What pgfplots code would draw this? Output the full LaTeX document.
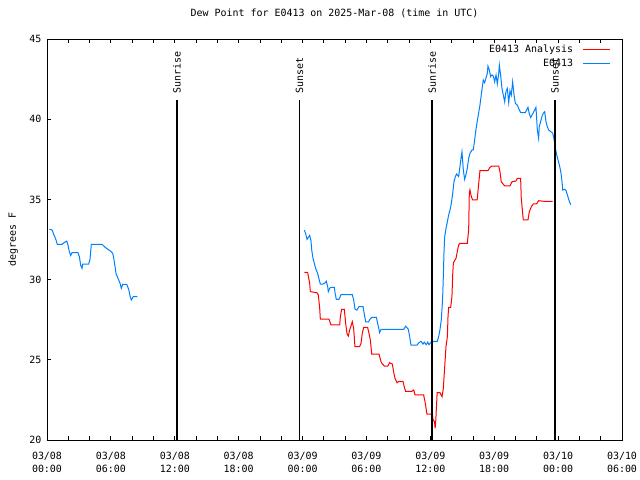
\documentclass[border=0pt]{standalone}
\usepackage{pgfplots}
\pgfplotsset{compat=1.18}
\usepackage{fontspec}
\setmainfont{DejaVu Sans Mono}
\setmonofont{DejaVu Sans Mono}
\definecolor{anared}{RGB}{255,0,0}
\definecolor{obsblue}{RGB}{0,128,255}
\begin{document}
\begin{tikzpicture}
\path[use as bounding box] (0,0) rectangle (640bp,480bp);
\begin{axis}[
  at={(47bp,40bp)}, anchor=south west,
  scale only axis, width=575bp, height=401bp,
  xmin=0, xmax=54, ymin=20, ymax=45,
  font=\fontsize{10}{12}\selectfont,
  /pgf/number format/assume math mode=true,
  xtick={0,6,...,54},
  xticklabels={{03/08\\00:00},{03/08\\06:00},{03/08\\12:00},{03/08\\18:00},{03/09\\00:00},{03/09\\06:00},{03/09\\12:00},{03/09\\18:00},{03/10\\00:00},{03/10\\06:00}},
  xticklabel style={align=center, font=\fontsize{10}{13}\selectfont, yshift=-9bp},
  minor xtick={2,4,8,10,14,16,20,22,26,28,32,34,38,40,44,46,50,52},
  ytick={20,25,...,45},
  yticklabel style={xshift=-2bp},
  tick align=inside,
  major tick length=4bp, minor tick length=4bp,
  xtick pos=both, ytick pos=left,
  axis line style={line width=0.8bp},
  every tick/.style={black, line width=0.8bp},
  title={Dew Point for E0413 on 2025-Mar-08 (time in UTC)},
  title style={at={(0.5,1)}, anchor=center, yshift=20bp},
  ylabel={degrees F},
  ylabel style={at={(axis description cs:-0.059,0.5)}, anchor=center},
  unbounded coords=jump,
  legend style={draw=none, fill=none, at={(0.985,0.995)}, anchor=north east, cells={anchor=east}, row sep=1bp, font=\fontsize{10}{12}\selectfont},
  legend plot pos=right,
  legend image code/.code={\path (0cm,0cm) -- (0cm,0cm); \draw[#1] (0.25cm,0cm) -- (1.2cm,0cm);},
  clip=false,
]
\addplot[anared, line width=1bp] coordinates {
(24.17,30.45) (24.48,30.45) (24.55,30.18) (24.67,29.77) (24.73,29.25) (25.36,29.18) (25.48,29.04) (25.61,28.21) (25.67,27.54)
(26.48,27.54) (26.67,27.17) (27.49,27.17) (27.55,27.69) (27.67,28.15) (27.92,28.15) (28.05,27.27) (28.17,26.65) (28.30,26.48)
(28.42,26.86) (28.55,27.11) (28.67,27.38) (28.80,26.96) (28.92,25.82) (29.36,25.82) (29.49,26.03) (29.61,26.65) (29.74,27.02)
(30.11,27.02) (30.24,26.65) (30.37,26.23) (30.49,25.36) (31.18,25.36) (31.37,24.88) (31.49,24.74) (31.68,24.61) (32.00,24.61)
(32.18,24.82) (32.43,24.74) (32.55,24.26) (32.68,23.85) (32.87,23.57) (33.05,23.66) (33.43,23.66) (33.55,23.32) (33.68,23.03)
(34.25,23.03) (34.44,23.12) (34.56,22.81) (35.37,22.81) (35.50,22.39) (35.68,21.62) (36.20,21.60) (36.26,21.25) (36.39,21.14)
(36.45,20.73) (36.51,21.20) (36.64,22.95) (36.90,22.95) (37.10,22.70) (37.22,23.22) (37.35,24.57) (37.47,25.82) (37.60,26.44)
(37.66,27.69) (37.72,28.27) (37.91,28.27) (38.03,28.94) (38.10,30.29) (38.16,31.02) (38.28,31.19) (38.41,31.33) (38.53,31.74)
(38.66,32.16) (38.78,32.26) (39.47,32.26) (39.60,33.09) (39.66,35.38) (39.72,35.59) (39.85,35.17) (39.97,34.97) (40.40,34.97)
(40.53,35.90) (40.66,36.79) (41.41,36.79) (41.60,37.00) (41.79,37.08) (42.42,37.08) (42.54,36.73) (42.66,36.10) (42.98,35.84)
(43.48,35.84) (43.67,36.10) (44.04,36.15) (44.17,36.31) (44.48,36.31) (44.54,35.07) (44.73,33.72) (45.17,33.72) (45.30,34.24)
(45.49,34.55) (45.67,34.72) (45.98,34.72) (46.17,34.92) (46.67,34.88) (47.49,34.88)
};
\addlegendentry{E0413 Analysis}
\addplot[obsblue, line width=1bp] coordinates {
(0.22,33.14) (0.47,33.10) (0.66,32.78) (0.85,32.47) (0.97,32.20) (1.41,32.20) (1.60,32.30) (1.85,32.40) (1.97,32.16) (2.10,31.74)
(2.22,31.50) (2.35,31.68) (2.90,31.68) (3.04,31.43) (3.16,30.90) (3.29,30.70) (3.35,30.97) (3.91,30.97) (4.04,31.26) (4.16,32.20)
(5.17,32.20) (5.48,32.00) (5.92,31.80) (6.17,31.64) (6.29,31.26) (6.48,30.39) (6.67,30.08) (6.86,29.77) (6.98,29.46) (7.11,29.70)
(7.49,29.70) (7.67,29.40) (7.80,28.98) (7.92,28.73) (8.10,28.94) (8.48,28.94)
(16,nan)
(24.17,33.09) (24.30,32.84) (24.42,32.51) (24.55,32.64) (24.67,32.76) (24.79,32.43) (24.86,31.85) (24.98,31.33) (25.10,31.02)
(25.23,30.70) (25.42,30.39) (25.55,30.02) (25.67,29.72) (25.92,29.72) (26.11,29.80) (26.23,29.90) (26.36,29.56) (26.42,29.25)
(26.55,29.46) (26.67,29.52) (26.98,29.52) (27.05,29.18) (27.17,28.77) (27.42,28.77) (27.61,29.06) (28.67,29.06) (28.80,28.73)
(28.93,28.15) (29.11,28.10) (29.30,28.31) (29.68,28.31) (29.80,27.85) (29.93,27.36) (30.18,27.36) (30.37,27.56) (30.50,27.65)
(30.93,27.65) (31.12,27.07) (31.24,26.69) (31.37,26.90) (33.50,26.90) (33.69,27.10) (33.93,26.90) (34.06,26.44) (34.18,25.92)
(34.75,25.92) (34.93,26.07) (35.12,26.15) (35.31,25.98) (35.43,26.10) (35.62,25.94) (35.75,26.10) (35.87,25.94) (36.06,26.10)
(36.37,26.15) (36.65,26.14) (36.78,26.44) (36.90,26.86) (37.03,27.48) (37.10,28.21) (37.16,28.94) (37.22,30.18) (37.28,31.64)
(37.35,32.68) (37.47,33.19) (37.60,33.61) (37.72,34.03) (37.85,34.34) (37.97,34.75) (38.10,35.38) (38.22,36.10) (38.35,36.42)
(38.47,36.58) (38.66,36.42) (38.78,37.04) (38.90,37.67) (38.97,37.97) (39.10,36.83) (39.22,36.25) (39.34,36.52) (39.47,36.94)
(39.60,37.56) (39.72,37.87) (39.91,38.08) (40.03,38.08) (40.16,38.70) (40.28,39.33) (40.40,39.85) (40.53,40.36) (40.66,40.88)
(40.78,41.51) (40.91,42.13) (40.97,42.44) (41.10,42.27) (41.22,42.55) (41.35,42.85) (41.41,43.31) (41.54,43.07) (41.66,42.65)
(41.79,42.76) (41.92,42.69) (42.04,42.33) (42.17,42.76) (42.29,42.20) (42.42,42.85) (42.48,43.38) (42.60,42.76) (42.73,41.92)
(42.85,41.51) (42.98,41.09) (43.10,41.71) (43.23,41.92) (43.36,41.03) (43.48,41.77) (43.60,41.50) (43.73,42.33) (43.86,41.51)
(43.98,40.99) (44.17,40.88) (44.36,40.57) (44.48,40.41) (44.92,40.41) (45.04,40.57) (45.17,40.74) (45.30,40.32) (45.42,40.11)
(45.55,40.26) (45.67,40.41) (45.80,40.57) (45.92,40.74) (46.05,39.33) (46.17,38.80) (46.23,39.54) (46.36,39.85) (46.48,40.16)
(46.61,40.37) (46.74,40.47) (46.86,39.85) (46.98,39.54) (47.11,39.33) (47.30,39.23) (47.49,39.13) (47.61,38.80) (47.74,38.18)
(47.87,37.77) (47.99,37.46) (48.12,37.14) (48.25,36.73) (48.37,36.10) (48.43,35.59) (48.62,35.63) (48.74,35.55) (48.87,35.28)
(48.99,35.01) (49.18,34.66)
};
\addlegendentry{E0413}
\addplot[black, line width=1.2bp, forget plot] coordinates {(12.21,20) (12.21,41.2)};
\addplot[black, line width=1.2bp, forget plot] coordinates {(23.71,20) (23.71,41.2)};
\addplot[black, line width=1.2bp, forget plot] coordinates {(36.16,20) (36.16,41.2)};
\addplot[black, line width=1.2bp, forget plot] coordinates {(47.71,20) (47.71,41.2)};
\node[rotate=90, anchor=west, inner sep=0pt] at (axis cs:12.21,41.6) {Sunrise};
\node[rotate=90, anchor=west, inner sep=0pt] at (axis cs:23.71,41.6) {Sunset};
\node[rotate=90, anchor=west, inner sep=0pt] at (axis cs:36.16,41.6) {Sunrise};
\node[rotate=90, anchor=west, inner sep=0pt] at (axis cs:47.71,41.6) {Sunset};
\end{axis}
\end{tikzpicture}
\end{document}
